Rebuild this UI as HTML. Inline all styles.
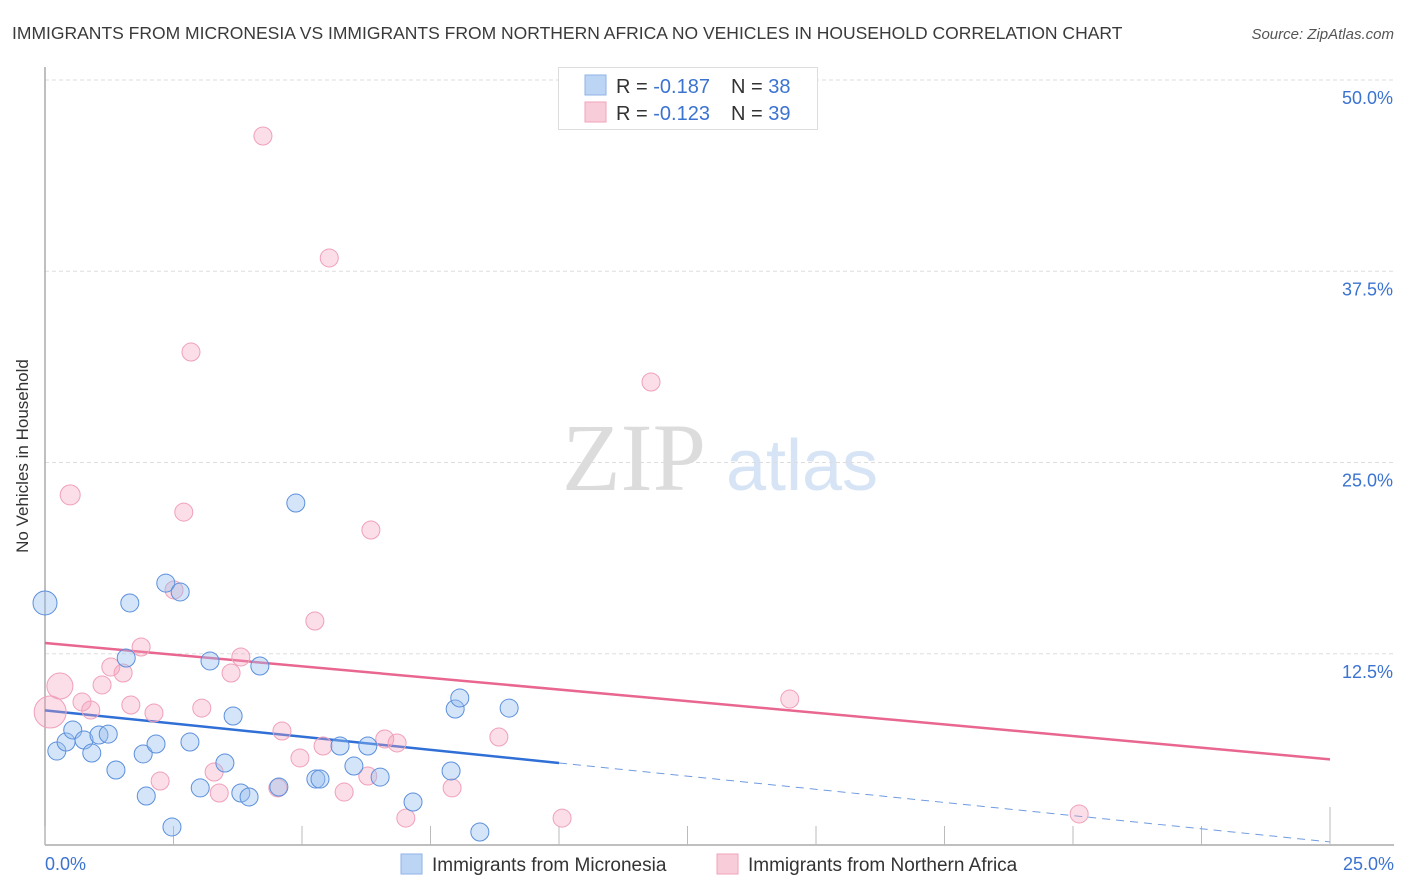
<!DOCTYPE html>
<html><head><meta charset="utf-8"><style>
body{margin:0;background:#fff;font-family:"Liberation Sans",sans-serif;}
#wrap{position:relative;width:1406px;height:892px;overflow:hidden;}
</style></head><body>
<div id="wrap">
<svg id="svg" width="1406" height="892" xmlns="http://www.w3.org/2000/svg">
<text x="12" y="39" font-size="17.5" fill="#3a3a3a">IMMIGRANTS FROM MICRONESIA VS IMMIGRANTS FROM NORTHERN AFRICA NO VEHICLES IN HOUSEHOLD CORRELATION CHART</text>
<text x="1394" y="39" font-size="15" fill="#555" font-style="italic" text-anchor="end">Source: ZipAtlas.com</text>
<text x="28" y="456" font-size="17" fill="#333" text-anchor="middle" transform="rotate(-90 28 456)">No Vehicles in Household</text>
<g>
<text x="634" y="490" font-size="96" fill="#dcdcdc" font-family="Liberation Serif,serif" text-anchor="middle">ZIP</text>
<text x="802" y="490" font-size="72" fill="#d6e4f5" text-anchor="middle">atlas</text>
</g>
<g id="grid"></g><g id="axes"></g><g id="lines"></g><g id="pts"></g>
<g>
<rect x="558.5" y="67.5" width="259" height="62" fill="#fff" stroke="#ddd"/>
<rect x="585" y="75" width="21" height="20" fill="#bcd5f5" stroke="#8fb3e6"/>
<rect x="585" y="102" width="21" height="20" fill="#f9ccd9" stroke="#f0a3bb"/>
<text x="616" y="93" font-size="20" fill="#333">R = <tspan fill="#3b73d1">-0.187</tspan><tspan x="731">N = </tspan><tspan fill="#3b73d1">38</tspan></text>
<text x="616" y="120" font-size="20" fill="#333">R = <tspan fill="#3b73d1">-0.123</tspan><tspan x="731">N = </tspan><tspan fill="#3b73d1">39</tspan></text>
</g>
<g>
<rect x="401" y="854" width="21" height="20" fill="#bcd5f5" stroke="#8fb3e6"/>
<text x="432" y="871" font-size="19" fill="#333">Immigrants from Micronesia</text>
<rect x="717" y="854" width="21" height="20" fill="#f9ccd9" stroke="#f0a3bb"/>
<text x="748" y="871" font-size="19" fill="#333">Immigrants from Northern Africa</text>
</g>
</svg>
</div>
<script>
const yTicks=[12.5,25,37.5,50];
const yTickLabels=["12.5%","25.0%","37.5%","50.0%"];
const xTickVals=[0,2.5,5,7.5,10,12.5,15,17.5,20,22.5,25];
const blueX=[0,0.23,0.41,0.54,0.76,0.91,1.05,1.23,1.38,1.65,1.58,1.91,1.97,2.16,2.35,2.47,2.63,2.82,3.02,3.21,3.5,3.66,3.81,3.97,4.18,4.55,4.88,5.27,5.35,5.74,6.01,6.28,6.52,7.16,7.9,7.98,8.07,8.46,9.03];
const blueY=[15.82,6.14,6.73,7.52,6.86,6.01,7.19,7.25,4.9,15.82,12.22,5.95,3.2,6.6,17.12,1.18,16.54,6.73,3.73,12.03,5.36,8.43,3.4,3.14,11.7,3.79,22.35,4.31,4.31,6.47,5.16,6.47,4.44,2.81,4.84,8.89,9.61,0.85,8.95];
const blueSize=[12,9,9,9,9,9,9,9,9,9,9,9,9,9,9,9,9,9,9,9,9,9,9,9,9,9,9,9,9,9,9,9,9,9,9,9,9,9,9];
const pinkX=[4.24,5.53,2.84,11.79,0.49,2.7,6.34,2.51,5.25,1.87,3.81,1.28,1.52,3.62,0.29,1.11,0.1,0.72,0.89,1.67,2.12,3.05,4.61,14.49,8.83,6.61,6.85,5.41,4.96,3.29,2.24,6.28,4.53,3.39,5.82,7.92,7.02,10.06,20.12];
const pinkY=[46.34,38.37,32.22,30.26,22.88,21.76,20.59,16.67,14.64,12.94,12.29,11.63,11.24,11.24,10.39,10.46,8.69,9.35,8.82,9.15,8.63,8.95,7.45,9.54,7.06,6.93,6.67,6.47,5.69,4.77,4.18,4.51,3.73,3.4,3.46,3.73,1.76,1.76,2.03];
const pinkSize=[9,9,9,9,10,9,9,9,9,9,9,9,9,9,13,9,16,9,9,9,9,9,9,9,9,9,9,9,9,9,9,9,9,9,9,9,9,9,9];
const blueTrend=[8.8,0.2], blueSolidEnd=10;
const pinkTrend=[13.2,5.6];
const NS="http://www.w3.org/2000/svg";
const X=v=>45+v*51.4, Y=v=>845-v*15.3;
function mk(p,t,a){const e=document.createElementNS(NS,t);for(const k in a)e.setAttribute(k,a[k]);document.getElementById(p).appendChild(e);return e;}
yTicks.forEach((t,i)=>{
 const g=mk('grid','line',{x1:45,x2:1394,y1:Y(t),y2:Y(t),stroke:'#ddd','stroke-dasharray':'4 3'});
 
 
 const l=mk('grid','text',{x:1393,y:Y(t)+24,'font-size':18,fill:'#3b73d1','text-anchor':'end'});
 l.textContent=yTickLabels[i];
 
 
});
const ya=mk('axes','line',{x1:45,x2:45,y1:67,y2:845,stroke:'#aaa','stroke-width':1.5});


const xa=mk('axes','line',{x1:45,x2:1394,y1:845,y2:845,stroke:'#aaa','stroke-width':1.5});


xTickVals.forEach((t,i)=>{
 const tk=mk('axes','line',{x1:X(t),x2:X(t),y1:i==xTickVals.length-1?807:826,y2:845,stroke:'#bbb'});
 
 
});
const x0=mk('axes','text',{x:45,y:870,'font-size':18,fill:'#3b73d1'});x0.textContent='0.0%';


const x1=mk('axes','text',{x:1394,y:870,'font-size':18,fill:'#3b73d1','text-anchor':'end'});x1.textContent='25.0%';


function pts(xs,ys,ss,fill,stroke,name){xs.forEach((x,i)=>{
 const c=mk('pts','circle',{cx:X(x),cy:Y(ys[i]),r:ss[i],fill:fill,stroke:stroke,'stroke-width':1});
 
 
});}
pts(pinkX,pinkY,pinkSize,'rgba(244,160,186,0.35)','#f0a0ba','point-northern-africa');
pts(blueX,blueY,blueSize,'rgba(150,190,240,0.4)','#5b8fdc','point-micronesia');
const by=v=>blueTrend[0]+(blueTrend[1]-blueTrend[0])*v/25;
const b1=mk('lines','line',{x1:X(0),y1:Y(by(0)),x2:X(blueSolidEnd),y2:Y(by(blueSolidEnd)),stroke:'#2f6fd6','stroke-width':2.5});


const b2=mk('lines','line',{x1:X(blueSolidEnd),y1:Y(by(blueSolidEnd)),x2:X(25),y2:Y(by(25)),stroke:'#6f9be0','stroke-width':1,'stroke-dasharray':'8 6'});


const p1=mk('lines','line',{x1:X(0),y1:Y(pinkTrend[0]),x2:X(25),y2:Y(pinkTrend[1]),stroke:'#e8668f','stroke-width':2.5});


</script>
</body></html>
